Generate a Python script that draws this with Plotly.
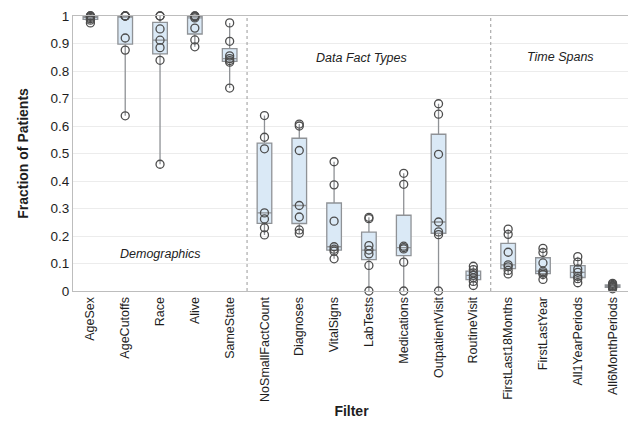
import numpy as np
import plotly.graph_objects as go

categories = ["AgeSex", "AgeCutoffs", "Race", "Alive", "SameState",
              "NoSmallFactCount", "Diagnoses", "VitalSigns", "LabTests",
              "Medications", "OutpatientVisit", "RoutineVisit",
              "FirstLast18Months", "FirstLastYear", "All1YearPeriods",
              "All6MonthPeriods"]

age_sex = [0.975, 0.985, 0.99, 0.995, 1.0, 1.0, 1.0]
age_cutoffs = [0.637, 0.876, 0.92, 1.0, 1.0, 1.0, 1.0]
race = [0.461, 0.839, 0.885, 0.912, 0.953, 1.0, 1.0]
alive = [0.888, 0.913, 0.956, 0.993, 0.997, 1.0, 1.0]
same_state = [0.738, 0.832, 0.838, 0.845, 0.855, 0.908, 0.975]
no_small_fact_count = [0.204, 0.230, 0.262, 0.284, 0.517, 0.559, 0.638]
diagnoses = [0.210, 0.222, 0.269, 0.311, 0.511, 0.600, 0.607]
vital_signs = [0.117, 0.145, 0.152, 0.161, 0.254, 0.386, 0.470]
lab_tests = [0.0, 0.093, 0.135, 0.149, 0.165, 0.263, 0.268]
medications = [0.0, 0.105, 0.153, 0.158, 0.163, 0.388, 0.428]
outpatient_visit = [0.0, 0.205, 0.215, 0.251, 0.497, 0.643, 0.681]
routine_visit = [0.020, 0.035, 0.048, 0.057, 0.066, 0.078, 0.090]
first_last_18_months = [0.062, 0.075, 0.088, 0.095, 0.141, 0.206, 0.225]
first_last_year = [0.042, 0.060, 0.066, 0.072, 0.102, 0.140, 0.155]
all_1_year_periods = [0.030, 0.045, 0.053, 0.068, 0.080, 0.105, 0.125]
all_6_month_periods = [0.008, 0.012, 0.015, 0.018, 0.020, 0.024, 0.028]

series = [age_sex, age_cutoffs, race, alive, same_state, no_small_fact_count,
          diagnoses, vital_signs, lab_tests, medications, outpatient_visit,
          routine_visit, first_last_18_months, first_last_year,
          all_1_year_periods, all_6_month_periods]

group_labels = ["Demographics", "Data Fact Types", "Time Spans"]

q1 = [float(np.percentile(s, 25)) for s in series]
med = [float(np.percentile(s, 50)) for s in series]
q3 = [float(np.percentile(s, 75)) for s in series]
lo = [float(min(s)) for s in series]
hi = [float(max(s)) for s in series]

fig = go.Figure()
fig.add_trace(go.Box(
    x=categories, q1=q1, median=med, q3=q3, lowerfence=lo, upperfence=hi,
    boxpoints=False, whiskerwidth=0,
    fillcolor="#dae9f6", line=dict(color="#8f9296", width=1.3),
    showlegend=False, hoverinfo="skip"))

px, py = [], []
for c, s in zip(categories, series):
    px += [c] * len(s)
    py += list(s)
fig.add_trace(go.Scatter(
    x=px, y=py, mode="markers", cliponaxis=False,
    marker=dict(symbol="circle", size=8, color="rgba(255,255,255,0)",
                line=dict(color="#4d4d4d", width=1.3)),
    showlegend=False, hoverinfo="skip"))

for xv in [4.5, 11.5]:
    fig.add_shape(type="line", xref="x", yref="paper", x0=xv, x1=xv, y0=0, y1=1,
                  line=dict(color="#9a9a9a", width=1, dash="dot"))

ann_pos = [(2, 0.133), (7.8, 0.846), (13.5, 0.852)]
for txt, (ax, ay) in zip(group_labels, ann_pos):
    fig.add_annotation(x=ax, y=ay, xref="x", yref="y", text="<i>%s</i>" % txt,
                       showarrow=False, font=dict(size=12.5, color="#222"))

fig.update_layout(
    width=628, height=414,
    margin=dict(l=65, r=6, t=8, b=131),
    plot_bgcolor="white", paper_bgcolor="white",
    font=dict(family="Liberation Sans, Arial", size=12, color="#1e1e1e"),
    boxgap=0.4,
)
fig.update_xaxes(type="category", range=[-0.5, 15.5], tickangle=-90,
                 automargin=False, ticklabeloverflow="allow",
                 showline=True, linecolor="#bdbdbd", mirror=True,
                 showgrid=False, ticks="", tickfont=dict(size=12.5),
                 title=dict(text="<b>Filter</b>", font=dict(size=14), standoff=5))
fig.update_yaxes(range=[0, 1], dtick=0.1, showline=True, linecolor="#bdbdbd",
                 automargin=False, ticklabeloverflow="allow",
                 mirror=True, showgrid=True, gridcolor="#ececec", zeroline=False,
                 ticks="", tickfont=dict(size=13.5),
                 title=dict(text="<b>Fraction of Patients</b>", font=dict(size=14),
                            standoff=18))

fig.write_html("out.html")
